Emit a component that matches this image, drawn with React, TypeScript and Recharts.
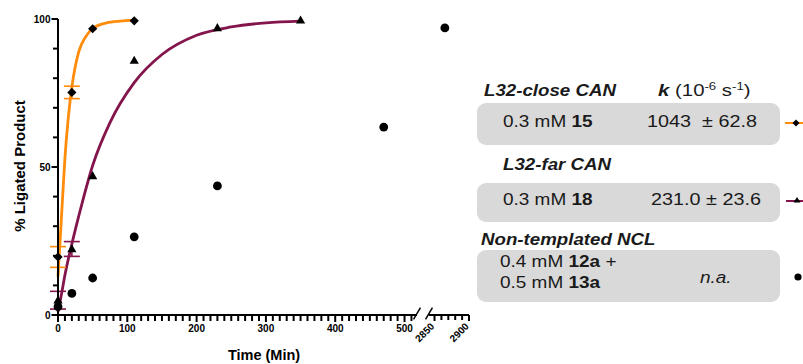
import React from 'react';
import { ComposedChart, Line, Scatter, XAxis, YAxis, ErrorBar, ReferenceLine } from 'recharts';

// L32-close CAN, 0.3 mM 15
const closeTimes = [0, 20, 50, 110];
const closeValues = [19.6, 75.2, 96.7, 99.4];
const closeErrors = [3.5, 2.1, 0, 0];

// L32-far CAN, 0.3 mM 18
const farTimes = [0, 20, 50, 110, 230, 350];
const farValues = [5, 22.3, 47, 86, 97, 99.6];
const farErrors = [3, 2.5, 0, 0, 0, 0];

// Non-templated NCL
const ntTimes = [0, 20, 50, 110, 230, 470];
const ntValues = [2.8, 7.3, 12.5, 26.4, 43.6, 63.5];
const ntLateTimes = [2865];
const ntLateValues = [97];

// fitted curves
const closeFitTimes = [0, 5, 10, 15, 20, 30, 40, 50, 70, 90, 110];
const closeFitValues = [13, 33, 53, 67, 77, 89, 94, 96.8, 98.7, 99.3, 99.6];
const farFitTimes = [0, 5, 10, 20, 35, 50, 75, 110, 150, 200, 250, 300, 350];
const farFitValues = [1, 7, 13.5, 24, 38, 50.5, 65, 78.5, 88, 94.5, 97.3, 98.7, 99.3];

const xMajorMain = [0, 100, 200, 300, 400, 500];
const xMajorLate = [2850, 2900];
const yMajor = [0, 50, 100];

const xTicksMain = Array.from({ length: 52 }, (_, i) => i * 10);
const xTicksLate = [2850, 2860, 2870, 2880, 2890, 2900];
const yTicks = [0, 10, 20, 30, 40, 50, 60, 70, 80, 90, 100];

const ORANGE = '#FF8C0A';
const PURPLE = '#84154C';
const FONT = '"Liberation Sans", Arial, sans-serif';
const BOX = '#D9D9D9';
const TICK_W = 2;

const toPoints = (ts: number[], vs: number[], es?: number[]) =>
  ts.map((t, i) => ({ t, v: vs[i], err: es ? es[i] : 0 }));

const closeData = toPoints(closeTimes, closeValues, closeErrors);
const farData = toPoints(farTimes, farValues, farErrors);
const ntData = toPoints(ntTimes, ntValues);
const ntLateData = toPoints(ntLateTimes, ntLateValues);
const closeFit = toPoints(closeFitTimes, closeFitValues);
const farFit = toPoints(farFitTimes, farFitValues);

const Diamond = (p: any) => (
  <polygon
    points={`${p.cx},${p.cy - 4.6} ${p.cx + 4.6},${p.cy} ${p.cx},${p.cy + 4.6} ${p.cx - 4.6},${p.cy}`}
    fill="#000"
  />
);
const Triangle = (p: any) => (
  <polygon points={`${p.cx},${p.cy - 4.8} ${p.cx + 4.6},${p.cy + 3.3} ${p.cx - 4.6},${p.cy + 3.3}`} fill="#000" />
);
const Dot = (p: any) => <circle cx={p.cx} cy={p.cy} r={4.4} fill="#000" />;

// tick marks drawn here, labels only on the major values
const YTick = (props: any) => {
  const x = Number(props.x);
  const y = Number(props.y);
  const value = props.payload.value;
  const major = yMajor.includes(value);
  const len = major ? 6.5 : 5;
  return (
    <g>
      <path d={`M${x - len},${y}H${x}`} stroke="#000" strokeWidth={TICK_W} fill="none" />
      {major && (
        <text x={x - len - 1} y={y + 3.5} textAnchor="end" fontSize={10} fontWeight="bold" fontFamily={FONT} fill="#000" stroke="none">
          {value}
        </text>
      )}
    </g>
  );
};

const XTickMain = (props: any) => {
  const x = Number(props.x);
  const y = Number(props.y);
  const value = props.payload.value;
  const major = xMajorMain.includes(value);
  const len = major ? 6 : 5;
  return (
    <g>
      <path d={`M${x},${y}V${y + len}`} stroke="#000" strokeWidth={TICK_W} fill="none" />
      {major && (
        <text x={x} y={y + 16} textAnchor="middle" fontSize={10} fontWeight="bold" fontFamily={FONT} fill="#000" stroke="none">
          {value}
        </text>
      )}
    </g>
  );
};

const XTickLate = (props: any) => {
  const x = Number(props.x);
  const y = Number(props.y);
  const value = props.payload.value;
  const major = xMajorLate.includes(value);
  const len = major ? 6 : 5;
  const px = x + 0.5;
  const py = y + 12;
  return (
    <g>
      <path d={`M${x},${y}V${y + len}`} stroke="#000" strokeWidth={TICK_W} fill="none" />
      {major && (
        <text
          x={px}
          y={py}
          textAnchor="end"
          fontSize={10}
          fontWeight="bold"
          fontFamily={FONT}
          fill="#000"
          stroke="none"
          transform={`rotate(-45 ${px} ${py})`}
        >
          {value}
        </text>
      )}
    </g>
  );
};

const T = ({ x, y, size = 16.5, sx = 1.15, children, ...rest }: any) => (
  <text transform={`translate(${x} ${y}) scale(${sx} 1)`} fontSize={size} fontFamily={FONT} fill="#1a1a1a" {...rest}>
    {children}
  </text>
);

const LegendPanel = () => (
  <svg width={803} height={364} style={{ position: 'absolute', left: 0, top: 0, pointerEvents: 'none' }}>
    <T x={484} y={96} size={17} sx={1.1} fontWeight="bold" fontStyle="italic">L32-close CAN</T>
    <T x={658} y={96} size={17} sx={1.2}>
      <tspan fontWeight="bold" fontStyle="italic">k</tspan> (10
      <tspan fontSize={11} dy={-6}>-6</tspan>
      <tspan dy={6}> s</tspan>
      <tspan fontSize={11} dy={-6}>-1</tspan>
      <tspan dy={6}>)</tspan>
    </T>
    <rect x={477} y={103} width={303} height={42} rx={9} fill={BOX} />
    <T x={503} y={127}>
      0.3 mM <tspan fontWeight="bold">15</tspan>
    </T>
    <T x={647} y={127} sx={1.2}>1043{'\u00A0'} ± 62.8</T>

    <T x={503} y={170} size={17} sx={1.1} fontWeight="bold" fontStyle="italic">L32-far CAN</T>
    <rect x={477} y={183} width={303} height={39} rx={9} fill={BOX} />
    <T x={503} y={205}>
      0.3 mM <tspan fontWeight="bold">18</tspan>
    </T>
    <T x={651} y={205} sx={1.2}>231.0 ± 23.6</T>

    <T x={481} y={245} size={17} sx={1.1} fontWeight="bold" fontStyle="italic">Non-templated NCL</T>
    <rect x={477} y={250} width={303} height={52} rx={9} fill={BOX} />
    <T x={500} y={267}>
      0.4 mM <tspan fontWeight="bold">12a</tspan> +
    </T>
    <T x={500} y={288}>
      0.5 mM <tspan fontWeight="bold">13a</tspan>
    </T>
    <T x={700} y={283} fontStyle="italic">n.a.</T>

    <line x1={785} y1={123} x2={803} y2={123} stroke={ORANGE} strokeWidth={2} />
    <polygon points="796,119.5 799.5,123 796,126.5 792.5,123" fill="#000" />
    <line x1={786} y1={201} x2={803} y2={201} stroke={PURPLE} strokeWidth={2} />
    <polygon points="797,197 800.5,202.5 793.5,202.5" fill="#000" />
    <circle cx={798} cy={277} r={3.6} fill="#000" />
  </svg>
);

export default function App() {
  return (
    <div style={{ position: 'absolute', left: 0, top: 0, width: 803, height: 364, background: '#fff' }}>
      <ComposedChart width={480} height={364} margin={{ top: 19, right: 11, bottom: 47, left: 0 }}>
        <XAxis
          xAxisId="main"
          type="number"
          dataKey="t"
          domain={[0, 518]}
          ticks={xTicksMain}
          interval={0}
          tick={<XTickMain />}
          tickLine={false}
          axisLine={false}
          tickSize={0}
          tickMargin={0}
          height={1}
          padding={{ left: 0, right: 52 }}
        />
        <XAxis
          xAxisId="late"
          type="number"
          dataKey="t"
          domain={[2842, 2900]}
          ticks={xTicksLate}
          interval={0}
          tick={<XTickLate />}
          tickLine={false}
          axisLine={false}
          tickSize={0}
          tickMargin={0}
          height={1}
          padding={{ left: 371, right: 0 }}
        />
        <YAxis
          type="number"
          dataKey="v"
          domain={[0, 100]}
          ticks={yTicks}
          interval={0}
          width={58}
          tick={<YTick />}
          tickLine={false}
          tickSize={0}
          tickMargin={0}
          axisLine={{ stroke: '#000', strokeWidth: 2 }}
        />

        <ReferenceLine xAxisId="main" segment={[{ x: 0, y: 0 }, { x: 518, y: 0 }]} stroke="#000" strokeWidth={2} ifOverflow="visible" />
        <ReferenceLine xAxisId="main" segment={[{ x: 513, y: -1.5 }, { x: 523, y: 2.5 }]} stroke="#000" strokeWidth={1.5} ifOverflow="visible" />
        <ReferenceLine xAxisId="late" segment={[{ x: 2842, y: 0 }, { x: 2900, y: 0 }]} stroke="#000" strokeWidth={2} ifOverflow="visible" />
        <ReferenceLine xAxisId="late" segment={[{ x: 2837, y: -1.5 }, { x: 2847, y: 2.5 }]} stroke="#000" strokeWidth={1.5} ifOverflow="visible" />

        <Line xAxisId="main" data={farFit} dataKey="v" type="monotone" stroke={PURPLE} strokeWidth={2.8} dot={false} isAnimationActive={false} />
        <Line xAxisId="main" data={closeFit} dataKey="v" type="monotone" stroke={ORANGE} strokeWidth={2.8} dot={false} isAnimationActive={false} />

        <Scatter xAxisId="main" data={ntData} shape={<Dot />} isAnimationActive={false} />
        <Scatter xAxisId="late" data={ntLateData} shape={<Dot />} isAnimationActive={false} />
        <Scatter xAxisId="main" data={farData} shape={<Triangle />} isAnimationActive={false}>
          <ErrorBar dataKey="err" direction="y" width={8} stroke={PURPLE} strokeWidth={1.6} />
        </Scatter>
        <Scatter xAxisId="main" data={closeData} shape={<Diamond />} isAnimationActive={false}>
          <ErrorBar dataKey="err" direction="y" width={8} stroke={ORANGE} strokeWidth={1.6} />
        </Scatter>
      </ComposedChart>

      <svg width={480} height={364} style={{ position: 'absolute', left: 0, top: 0, pointerEvents: 'none' }}>
        <text x={264} y={360} textAnchor="middle" fontSize={14.5} fontWeight="bold" fontFamily={FONT}>
          Time (Min)
        </text>
        <text
          x={25}
          y={166}
          textAnchor="middle"
          fontSize={15}
          fontWeight="bold"
          fontFamily={FONT}
          transform="rotate(-90 25 166)"
        >
          % Ligated Product
        </text>
      </svg>
      <LegendPanel />
    </div>
  );
}
